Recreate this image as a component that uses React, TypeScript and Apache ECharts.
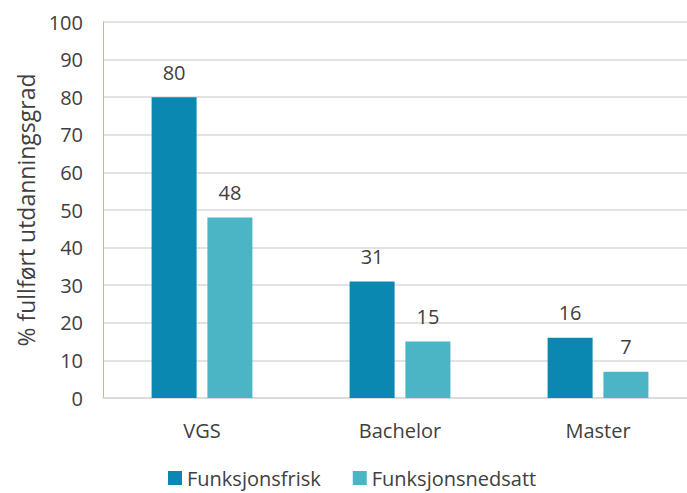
import React, { useEffect, useRef } from "react";
import * as echarts from "echarts";

const categories = ["VGS", "Bachelor", "Master"];
const funksjonsfrisk = [80, 31, 16];
const funksjonsnedsatt = [48, 15, 7];
const seriesNames = ["Funksjonsfrisk", "Funksjonsnedsatt"];

const FONT = "'Open Sans', 'Noto Sans', sans-serif";
const TEXT = "#404040";
const FS = 20;

export default function App() {
  const ref = useRef<HTMLDivElement>(null);
  useEffect(() => {
    const chart = echarts.init(ref.current!, null, { renderer: "svg" });
    const label = {
      show: true,
      position: "top",
      distance: 15,
      color: TEXT,
      fontSize: FS,
      fontFamily: FONT,
    };
    chart.setOption({
      animation: false,
      textStyle: { fontFamily: FONT },
      grid: { left: 103, right: 0, top: 22, bottom: 95 },
      legend: {
        data: seriesNames,
        bottom: 0,
        left: 163,
        itemWidth: 14,
        itemHeight: 14,
        itemGap: 32,
        icon: "rect",
        textStyle: { color: TEXT, fontSize: FS, fontFamily: FONT },
      },
      xAxis: {
        type: "category",
        data: categories,
        axisLine: { lineStyle: { color: "#d9d9d9", width: 1.5 } },
        axisTick: { show: false },
        axisLabel: { color: TEXT, fontSize: FS, fontFamily: FONT, margin: 22 },
      },
      yAxis: {
        type: "value",
        min: 0,
        max: 100,
        interval: 10,
        name: "% fullført utdanningsgrad",
        nameLocation: "middle",
        nameGap: 66,
        nameTextStyle: { color: TEXT, fontSize: 23, fontFamily: FONT },
        axisLine: { show: true, lineStyle: { color: "#c9b99a", width: 1 } },
        axisTick: { show: false },
        axisLabel: { color: TEXT, fontSize: FS, fontFamily: FONT, margin: 20 },
        splitLine: { lineStyle: { color: "#d9d9d9", width: 1.5 } },
      },
      series: [
        {
          name: seriesNames[0],
          type: "bar",
          data: funksjonsfrisk,
          barWidth: 45,
          barGap: "24%",
          itemStyle: { color: "#0a88b1" },
          label,
        },
        {
          name: seriesNames[1],
          type: "bar",
          data: funksjonsnedsatt,
          barWidth: 45,
          itemStyle: { color: "#4bb5c5" },
          label,
        },
      ],
    });
    return () => chart.dispose();
  }, []);
  return (
    <div style={{ width: 687, height: 493, position: "absolute", left: 0, top: 0, overflow: "hidden" }}>
      <div ref={ref} style={{ width: 697, height: 493 }} />
    </div>
  );
}
